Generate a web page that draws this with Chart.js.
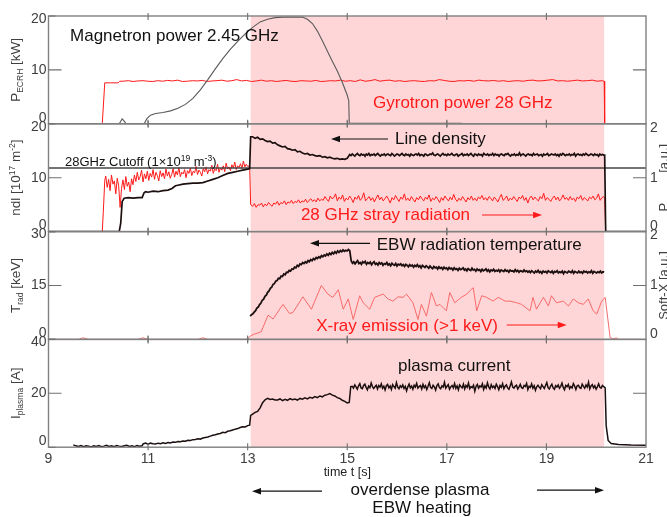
<!DOCTYPE html>
<html><head><meta charset="utf-8">
<script src="https://cdn.jsdelivr.net/npm/chart.js@4.4.1/dist/chart.umd.min.js"></script>
<style>html,body{margin:0;padding:0;background:#fff;}#wrap{width:667px;height:517px;position:relative;}canvas{display:block;}</style>
</head><body><div id="wrap"><canvas id="c" width="667" height="517"></canvas></div>
<script>
// ---------------- data ----------------
const xTicks = [9, 11, 13, 15, 17, 19, 21];
const ticksP1 = [0, 10, 20];
const ticksP2 = [0, 10, 20];
const ticksP3 = [0, 15, 30];
const ticksP4 = [0, 20, 40];
const ticksRight = [0, 1, 2];
const heatingWindow = [13.06, 20.16];
const cutoffLevel = 11.8;

// Panel 1: gyrotron power 28 GHz [kW]
const gyroLead = [[9,0],[10.08,0],[10.13,7.6],[10.25,7.6],[10.4,7.6],[10.43,7.9]];
const gyroNoiseSpan = [10.5, 20.12];
const gyroNoise = [7.9,8.0,7.85,7.95,8.0,7.9,7.85,8.0,7.9,8.05,
 7.95,8.1,7.85,7.9,8.0,7.95,8.05,7.85,7.95,8.0,
 8.1,7.9,8.0,8.2,7.95,8.05,7.85,7.95,8.1,7.9,
 8.0,7.85,7.95,8.05,7.9,7.85,8.0,7.95,7.9,8.05,
 7.85,7.9,8.0,7.95,8.1,7.9,8.0,7.85,8.15,7.9,
 8.0,8.2,7.9,8.05,8.1,7.9,8.0,7.85,7.95,8.0,
 7.9,7.85,8.0,7.95,8.2,8.05,7.9,7.85,8.0,7.95,
 8.05,7.9,8.1,8.0,7.95,8.05,7.9,8.0,7.85,7.95,
 8.0,7.9,8.05,8.1,7.95,8.0,8.1,8.2,7.95,8.0,
 7.9,8.0,8.1,7.95,8.0,8.1,7.9,8.0];
const gyroTail = [[20.16,7.9],[20.17,0],[21,0]];

// Panel 1: magnetron power 2.45 GHz [kW]
const magnetron = [[9,0],[10.42,0],[10.48,0.9],[10.52,0.5],[10.56,0],[10.92,0],[10.98,1.0],[11.05,1.6],[11.15,1.9],
 [11.3,2.1],[11.45,2.4],[11.6,2.9],[11.75,3.6],[11.9,4.7],[12.05,6.3],[12.2,8.2],[12.35,10.2],[12.5,12.1],
 [12.65,13.8],[12.8,15.3],[12.95,16.7],[13.1,17.9],[13.25,18.9],[13.4,19.4],[13.55,19.7],[13.7,19.8],
 [13.9,19.8],[14.1,19.8],[14.2,19.4],[14.3,18.6],[14.4,17.2],[14.5,15.4],[14.6,13.5],[14.7,11.6],
 [14.8,9.8],[14.9,7.7],[15.0,5.3],[15.03,4.3],[15.04,0.1],[17.3,0.1]];

// Panel 2: line density [1e17 m^-2]
const densLead = [[9,0],[10.42,0],[10.45,1.5],[10.48,5.6],[10.52,6.2],[10.6,6.3],[10.7,6.2],[10.8,6.3],[10.88,6.3],
 [10.92,7.2],[10.95,7.4],[11.0,7.3],[11.1,7.5],[11.2,7.4],[11.3,7.6],[11.4,7.7],[11.48,8.0],[11.55,8.5],
 [11.6,8.6],[11.7,8.8],[11.8,8.9],[11.9,9.0],[12.0,9.0],[12.1,9.1],[12.2,9.4],[12.3,9.7],[12.4,10.0],
 [12.5,10.4],[12.6,10.8],[12.7,11.0],[12.8,11.2],[12.9,11.4],[13.0,11.6],[13.04,11.7],[13.06,17.6]];
const densDecaySpan = [13.1, 15.0];
const densDecay = [17.6,17.3,17.5,17.1,17.2,16.9,16.7,16.8,16.4,16.5,
 16.1,15.9,15.7,15.8,15.4,15.3,15.1,15.2,14.8,14.9,
 14.6,14.4,14.5,14.2,14.3,14.1,14.0,14.1,13.8,13.9,
 13.7,13.8,13.6,13.5,13.6,13.4,13.5,13.4,13.6];
const densFlatSpan = [15.05, 20.15];
const densFlat = [14.3,14.1,14.4,14.2,14.0,14.3,14.5,14.2,14.1,14.4,
 14.2,14.3,14.0,14.4,14.2,14.5,14.1,14.3,14.2,14.4,
 14.1,14.3,14.5,14.2,14.0,14.3,14.2,14.4,14.1,14.3,
 14.4,14.2,14.1,14.5,14.3,14.0,14.2,14.4,14.3,14.1,
 14.3,14.5,14.2,14.1,14.4,14.2,14.3,14.0,14.4,14.2,
 14.1,14.3,14.4,14.2,14.5,14.1,14.3,14.2,14.0,14.4,
 14.3,14.1,14.2,14.4,14.3,14.6,14.2,14.1,14.3,14.4,
 14.2,14.0,14.3,14.5,14.2,14.3,14.1,14.4,14.2,14.3,
 14.5,14.2,14.1,14.3,14.4,14.0,14.2,14.3,14.5,14.1,
 14.3,14.2,14.4,14.1,14.3,14.5,14.2,14.0,14.4,14.3,
 14.1,14.4,14.2,14.3,14.0,14.5,14.3,14.2,14.4,14.1,
 14.3,14.2,14.5,14.1,14.4,14.2,14.3,14.0,14.3,14.4,
 14.2,14.1,14.4,14.3,14.5,14.2,14.0,14.3,14.2,14.4,
 14.1,14.3,14.2,14.6,14.1,14.3,14.4,14.2,14.0,14.3,
 14.4,14.2,14.3,14.1,14.5,14.2,14.3,14.4,14.1,14.2,
 14.3,14.0,14.4,14.2,14.3,14.5,14.1,14.2,14.4,14.3,
 14.2,14.4,14.1,14.3,14.0,14.4,14.2,14.5,14.3,14.1,
 14.3,14.2,14.4,14.1,14.3,14.2,14.5,14.0,14.3,14.4,
 14.2,14.3,14.1,14.4,14.2,14.5,14.3,14.1,14.2,14.4,
 14.3,14.1,14.4,14.2,14.3,14.0,14.4,14.2,14.3,14.2];
const densTail = [[20.17,14.2],[20.19,0],[21,0]];

// Panel 2: 28 GHz stray radiation [a.u.]
const strayLead = [[9,0],[10.08,0],[10.1,0.35],[10.13,0.95]];
const strayEarlySpan = [10.15, 13.0];
const strayEarly = [1.03,0.82,0.97,0.76,1.05,0.88,0.94,0.70,0.99,0.85,0.45,0.80,0.96,0.78,1.02,0.84,0.92,0.74,0.98,0.87,
 1.05,0.93,1.10,0.96,1.02,1.14,0.92,1.07,0.98,1.12,
 0.95,1.08,1.01,1.15,0.97,1.10,1.04,0.94,1.13,1.02,
 1.09,0.98,1.16,1.03,1.11,0.99,1.06,1.17,1.01,1.12,
 1.05,1.19,1.02,1.10,1.07,1.15,1.00,1.13,1.08,1.18,
 1.04,1.12,1.09,1.21,1.06,1.14,1.10,1.03,1.17,1.11,
 1.20,1.07,1.15,1.12,1.23,1.08,1.16,1.13,1.25,1.10,
 1.18,1.14,1.22,1.11,1.27,1.16,1.20,1.13,1.24,1.18,
 1.29,1.15,1.22,1.19,1.26,1.17,1.31,1.20,1.25,1.21];
const strayDrop = [[13.04,1.22],[13.06,0.5]];
const strayLateSpan = [13.1, 20.15];
const strayLate = [0.47,0.52,0.45,0.50,0.49,0.53,0.46,0.51,0.48,0.54,
 0.50,0.47,0.53,0.51,0.56,0.49,0.54,0.52,0.57,0.50,
 0.55,0.53,0.58,0.52,0.56,0.54,0.59,0.53,0.57,0.55,
 0.60,0.54,0.58,0.61,0.56,0.59,0.55,0.62,0.57,0.60,
 0.58,0.65,0.60,0.56,0.66,0.61,0.63,0.70,0.57,0.64,
 0.60,0.68,0.56,0.62,0.59,0.66,0.61,0.54,0.64,0.60,
 0.67,0.58,0.62,0.72,0.57,0.61,0.65,0.58,0.63,0.55,
 0.62,0.68,0.59,0.64,0.57,0.61,0.66,0.60,0.53,0.63,
 0.59,0.67,0.61,0.56,0.64,0.60,0.70,0.58,0.62,0.57,
 0.65,0.60,0.55,0.63,0.59,0.66,0.61,0.57,0.64,0.60,
 0.68,0.56,0.62,0.59,0.65,0.60,0.54,0.63,0.58,0.66,
 0.61,0.57,0.64,0.59,0.69,0.60,0.56,0.62,0.58,0.65,
 0.60,0.55,0.63,0.59,0.66,0.58,0.62,0.57,0.64,0.61,
 0.67,0.59,0.63,0.58,0.65,0.62,0.57,0.64,0.60,0.55,
 0.63,0.69,0.58,0.61,0.66,0.57,0.62,0.59,0.65,0.60,
 0.56,0.64,0.61,0.67,0.58,0.63,0.53,0.62,0.66,0.59,
 0.64,0.60,0.57,0.65,0.61,0.71,0.58,0.63,0.60,0.56,
 0.62,0.66,0.59,0.64,0.57,0.61,0.68,0.60,0.63,0.58,
 0.65,0.59,0.62,0.56,0.64,0.61,0.67,0.58,0.63,0.60,
 0.57,0.64,0.61,0.66,0.59,0.62,0.70,0.58,0.63,0.65];
const strayTail = [[20.17,0.62],[20.19,0],[21,0]];

// Panel 3: EBW radiation temperature [keV]
const ebwRiseSpan = [13.05, 15.05];
const ebwRise = [6.5,6.9,7.1,7.6,8.0,8.7,9.0,9.7,10.1,10.9,
 11.2,12.0,12.3,13.1,13.5,14.2,14.5,15.3,15.5,16.2,
 16.4,17.0,16.9,17.6,17.5,18.2,18.0,18.7,18.6,19.2,
 19.0,19.6,19.5,20.1,19.9,20.6,20.3,21.0,20.8,21.4,
 21.1,21.6,21.3,21.9,21.6,22.2,21.9,22.5,22.2,22.8,
 22.5,23.0,22.7,23.3,23.0,23.5,23.2,23.8,23.4,24.0,
 23.6,24.2,23.8,24.4,24.0,24.6,24.2,24.7,24.4,24.9,
 24.5,24.8,24.6,25.0,24.7];
const ebwDecaySpan = [15.08, 20.16];
const ebwDecay = [21.8,21.2,21.6,21.0,21.5,21.9,21.1,21.4,20.9,21.6,
 21.3,21.7,20.9,21.4,21.1,21.5,20.8,21.3,21.6,20.9,
 21.2,20.7,21.4,21.0,21.3,20.6,21.1,20.9,21.4,20.7,
 21.0,20.5,21.2,20.8,20.6,21.1,20.4,20.9,20.7,21.0,
 20.5,20.8,20.3,20.9,20.6,20.2,20.8,20.4,20.7,20.1,
 20.6,20.3,20.8,20.2,20.5,19.9,20.6,20.3,20.0,20.5,
 20.2,19.8,20.4,20.0,19.7,20.3,19.9,20.1,19.6,20.2,
 19.8,20.0,19.5,20.1,19.7,19.9,19.4,20.0,19.6,19.8,
 19.3,19.9,19.5,19.7,19.2,19.8,19.4,19.6,19.9,19.3,
 19.6,19.1,19.7,19.4,19.2,19.8,19.3,19.5,19.0,19.6,
 19.2,19.4,18.9,19.5,19.1,19.3,19.6,19.0,19.4,18.8,
 19.3,19.1,19.5,18.9,19.2,19.0,19.4,18.8,19.3,19.1,
 18.9,19.4,19.0,19.2,18.7,19.3,19.0,19.1,18.8,19.4,
 18.9,19.2,18.7,19.1,19.0,18.8,19.3,18.9,19.1,18.7,
 19.0,18.6,19.1,18.8,18.5,19.0,18.7,19.2,18.6,18.9,
 18.4,19.0,18.7,18.9,18.5,19.1,18.8,18.6,19.0,18.4,
 18.9,18.7,19.1,18.5,18.8,18.6,19.0,18.3,18.9,18.7,
 18.5,19.0,18.8,18.6,19.1,18.4,18.9,18.7,18.5,19.0,
 18.6,18.8,18.4,19.0,18.7,18.9,18.5,18.8,18.6,19.1,
 18.4,18.9,18.7,18.5,18.8,18.6,19.0,18.5,18.8,18.7];

// Panel 3: X-ray emission (>1 keV) [a.u.]
const xray = [[9,0],[9.6,0],[9.7,0.03],[9.8,0],[10.8,0],[10.9,0.03],[11.0,0],[12.0,0],[12.1,0.03],[12.2,0],[13.0,0],
 [13.05,0.06],[13.11,0.09],[13.27,0.14],[13.41,0.45],[13.51,0.38],[13.71,0.65],[13.84,0.48],[13.91,0.5],
 [14.11,0.79],[14.28,0.56],[14.48,1.0],[14.61,0.84],[14.71,0.78],[14.82,0.92],[14.92,0.56],[15.02,0.75],
 [15.12,0.37],[15.25,0.81],[15.32,0.68],[15.45,0.56],[15.55,0.78],[15.72,0.84],[15.82,0.75],[15.92,0.71],
 [16.02,0.79],[16.12,0.78],[16.19,0.84],[16.32,0.68],[16.42,0.37],[16.49,0.65],[16.59,0.43],[16.69,0.87],
 [16.79,0.62],[16.86,0.65],[16.99,0.53],[17.06,0.87],[17.16,0.68],[17.29,0.78],[17.40,0.84],[17.46,0.9],
 [17.53,0.96],[17.60,0.53],[17.70,0.81],[17.80,0.78],[17.93,0.71],[18.03,0.78],[18.17,0.71],[18.27,0.71],
 [18.40,0.68],[18.50,0.65],[18.67,0.53],[18.73,0.78],[18.80,0.56],[18.94,0.78],[19.04,0.62],[19.10,0.81],
 [19.20,0.68],[19.34,0.71],[19.44,0.62],[19.54,0.75],[19.64,0.68],[19.74,0.65],[19.84,0.75],[19.94,0.53],
 [20.01,0.47],[20.11,0.71],[20.18,0.78],[20.28,0.03],[20.35,0.01],[20.40,0.03],[20.45,0],[21,0]];

// Panel 4: plasma current [A]
const ipEarlySpan = [9.5, 10.88];
const ipEarly = [0.8,0.5,0.3,0.6,0.2,0.5,0.4,0.1,0.5,0.3,0.6,0.2,0.4,0.7,0.3,0.5,0.2,0.6,0.4,0.3,0.5,0.7,0.3,0.5,0.2,0.6,0.4,0.5];
const ipRampSpan = [10.9, 13.0];
const ipRamp = [1.2,1.5,1.1,1.5,1.3,1.2,1.5,1.3,1.6,1.4,1.7,1.6,1.9,1.8,2.1,2.0,2.3,2.2,2.6,2.5,2.8,2.9,3.1,3.0,
 3.4,3.6,3.8,4.1,4.4,4.6,4.9,5.1,5.5,5.4,5.9,6.1,6.4,6.7,6.9,7.3,7.6,7.5,8.0];
const ipJump1 = [[13.04,8.2],[13.06,11.8]];
const ipMidSpan = [13.1, 15.0];
const ipMid = [12.3,12.9,13.3,14.6,16.5,17.6,18.1,17.7,17.9,17.5,
 17.5,17.9,17.3,17.8,17.4,18.0,17.6,17.9,17.5,18.1,
 17.8,18.3,17.9,18.5,18.2,18.8,18.4,19.0,18.7,19.3,
 19.5,19.9,19.3,19.0,18.4,18.1,17.4,17.0,16.4];
const ipJump2 = [[15.04,16.6],[15.07,22.5]];
const ipFlatSpan = [15.1, 20.15];
const ipFlat = [22.6,21.9,23.1,22.4,21.5,22.8,23.6,22.0,21.7,22.9,
 23.4,22.2,21.3,22.7,22.1,23.8,22.5,21.8,22.4,23.0,
 21.6,22.9,22.3,23.5,21.9,22.6,21.2,22.8,23.3,22.0,
 22.7,21.4,23.2,22.5,21.9,24.0,22.3,21.7,22.8,22.2,
 23.1,21.8,22.6,20.9,22.4,23.4,22.0,22.7,21.5,23.0,
 22.3,23.7,21.9,22.5,22.9,21.6,23.3,22.1,22.8,21.4,
 22.6,23.9,22.2,21.8,23.0,22.4,21.2,22.9,23.5,22.1,
 21.7,22.8,22.3,24.1,21.9,22.6,23.2,21.5,22.4,22.9,
 22.0,23.6,21.8,22.7,21.3,23.1,22.5,22.0,23.4,21.6,
 22.9,22.2,23.8,21.7,22.5,22.1,23.0,20.8,22.6,23.3,
 21.9,22.7,22.3,23.5,21.4,22.8,22.0,23.9,22.4,21.6,
 23.2,22.1,22.7,21.8,23.4,22.5,21.3,22.9,22.2,23.6,
 21.7,22.6,23.1,22.0,21.5,22.8,24.2,22.3,21.9,22.7,
 23.0,21.6,22.4,23.3,22.1,21.8,22.9,22.5,23.7,21.4,
 22.6,22.2,23.5,21.9,22.8,21.1,22.4,23.0,22.3,21.7,
 23.2,22.5,21.8,22.9,24.0,22.1,21.6,22.7,23.4,22.0,
 21.5,22.8,22.3,23.1,21.9,22.6,23.8,22.2,21.3,22.9,
 22.4,23.3,21.7,22.5,22.0,23.6,22.7,21.4,22.8,23.0,
 22.1,21.8,23.4,22.6,21.9,23.1,22.3,24.1,21.6,22.7,
 23.2,22.0,22.8,21.5,22.4,23.5,22.2,21.9,22.9,22.5];
const ipTail = [[20.18,22.0],[20.2,8],[20.24,2.5],[20.3,1.4],[20.45,1.0],[20.7,0.8],[21,0.7]];

// ---------------- build ----------------
function build(parts) {
  const out = [];
  for (const p of parts) {
    if (Array.isArray(p)) { for (const [x, y] of p) out.push({x, y}); }
    else {
      const n = p.v.length;
      p.v.forEach((y, i) => out.push({x: p.span[0] + (p.span[1] - p.span[0]) * i / (n - 1), y}));
    }
  }
  return out;
}
const seg = (span, v) => ({span, v});

const BLACK = '#1c0f0f', RED = '#ff1a1a', GRAY = '#5a5a5a', TXT = '#404040';
const FONT = '"Liberation Sans", Arial, sans-serif';
Chart.defaults.font.family = FONT;

const line = (data, yAxisID, color, width) => ({data, yAxisID, xAxisID: 'x', borderColor: color, borderWidth: width,
  pointRadius: 0, tension: 0, fill: false});

const datasets = [
  line(build([densLead, seg(densDecaySpan, densDecay), seg(densFlatSpan, densFlat), densTail]), 'y2', BLACK, 1.7),
  line(build([seg(ebwRiseSpan, ebwRise), seg(ebwDecaySpan, ebwDecay)]), 'y3', BLACK, 1.8),
  line(build([seg(ipEarlySpan, ipEarly), seg(ipRampSpan, ipRamp), ipJump1, seg(ipMidSpan, ipMid), ipJump2, seg(ipFlatSpan, ipFlat), ipTail]), 'y4', BLACK, 1.5),
  line(build([[[9, cutoffLevel], [21, cutoffLevel]]]), 'y2', '#444', 1.3),
  line(build([magnetron]), 'y1', GRAY, 1.1),
  line(build([gyroLead, seg(gyroNoiseSpan, gyroNoise), gyroTail]), 'y1', RED, 1),
  line(build([strayLead, seg(strayEarlySpan, strayEarly), strayDrop, seg(strayLateSpan, strayLate), strayTail]), 'r2', RED, 1),
  line(build([xray]), 'r3', '#f86a6a', 1),
];

const hidden = {ticks: {display: false}, grid: {display: false}, border: {display: false}};
const yL = (min, max) => Object.assign({type: 'linear', position: 'left', stack: 'L', stackWeight: 1, min, max,
  afterFit: s => { s.width = 0; }}, hidden);
const yR = (min, max) => Object.assign({type: 'linear', position: 'right', stack: 'R', stackWeight: 1, min, max,
  afterFit: s => { s.width = 0; }}, hidden);

// ---------------- decoration plugin ----------------
function rich(ctx, parts, x, y, align) {
  let w = 0;
  for (const p of parts) { ctx.font = p.s + 'px ' + FONT; w += ctx.measureText(p.t).width; }
  let cx = align === 'center' ? x - w / 2 : align === 'right' ? x - w : x;
  ctx.textAlign = 'left'; ctx.textBaseline = 'alphabetic';
  for (const p of parts) {
    ctx.font = p.s + 'px ' + FONT;
    ctx.fillText(p.t, cx, y + (p.dy || 0));
    cx += ctx.measureText(p.t).width;
  }
}
function arrow(ctx, x1, y, x2, color) {
  const d = Math.sign(x2 - x1);
  ctx.strokeStyle = color; ctx.fillStyle = color; ctx.lineWidth = 1.2;
  ctx.beginPath(); ctx.moveTo(x1, y); ctx.lineTo(x2 - d * 7, y); ctx.stroke();
  ctx.beginPath(); ctx.moveTo(x2, y); ctx.lineTo(x2 - d * 9, y - 3.2); ctx.lineTo(x2 - d * 9, y + 3.2); ctx.closePath(); ctx.fill();
}

const leftPanels = [
  {id: 'y1', r: 'r1', ticks: ticksP1, title: [{t: 'P', s: 13.5}, {t: 'ECRH', s: 8.5, dy: 3}, {t: ' [kW]', s: 13.5}]},
  {id: 'y2', r: 'r2', ticks: ticksP2, rticks: ticksRight,
   title: [{t: 'ndl [10', s: 13.5}, {t: '17', s: 8.5, dy: -5}, {t: ' m', s: 13.5}, {t: '-2', s: 8.5, dy: -5}, {t: ']', s: 13.5}],
   rtitle: [{t: 'P', s: 13}, {t: '28GHz', s: 8.5, dy: 7}, {t: ' [a.u.]', s: 13}]},
  {id: 'y3', r: 'r3', ticks: ticksP3, rticks: ticksRight, title: [{t: 'T', s: 13.5}, {t: 'rad', s: 8.5, dy: 3}, {t: ' [keV]', s: 13.5}],
   rtitle: [{t: 'Soft-X [a.u.]', s: 13}]},
  {id: 'y4', r: 'r4', ticks: ticksP4, title: [{t: 'I', s: 13.5}, {t: 'plasma', s: 8.5, dy: 3}, {t: ' [A]', s: 13.5}]},
];

const notes = [
  {parts: [{t: 'Magnetron power 2.45 GHz', s: 17}], x: 9.432, y: 15.42, axis: 'y1', color: '#111', align: 'left'},
  {parts: [{t: 'Gyrotron power 28 GHz', s: 17}], x: 15.517, y: 2.88, axis: 'y1', color: RED, align: 'left'},
  {parts: [{t: 'Line density', s: 17}], x: 15.959, y: 16.25, axis: 'y2', color: '#111', align: 'left'},
  {parts: [{t: '28GHz Cutoff (1\u00d710', s: 13}, {t: '19', s: 8.5, dy: -5}, {t: ' m', s: 13}, {t: '-3', s: 8.5, dy: -5}, {t: ')', s: 13}],
   x: 9.331, y: 12.23, axis: 'y2', color: '#111', align: 'left'},
  {parts: [{t: '28 GHz stray radiation', s: 17}], x: 17.466, y: 0.215, axis: 'r2', color: RED, align: 'right'},
  {parts: [{t: 'EBW radiation temperature', s: 17}], x: 15.592, y: 24.88, axis: 'y3', color: '#111', align: 'left'},
  {parts: [{t: 'X-ray emission (>1 keV)', s: 17}], x: 18.028, y: 0.156, axis: 'r3', color: RED, align: 'right'},
  {parts: [{t: 'plasma current', s: 17}], x: 16.02, y: 28.27, axis: 'y4', color: '#111', align: 'left'},
];
const arrows = [
  {x1: 15.818, x2: 14.674, y: 17.18, axis: 'y2', color: '#111'},
  {x1: 17.707, x2: 18.912, y: 0.308, axis: 'r2', color: RED},
  {x1: 15.457, x2: 14.252, y: 26.74, axis: 'y3', color: '#111'},
  {x1: 18.203, x2: 19.408, y: 0.267, axis: 'r3', color: RED},
];

const deco = {
  id: 'deco',
  beforeDatasetsDraw(chart) {
    const {ctx, chartArea: a, scales} = chart;
    const x0 = scales.x.getPixelForValue(heatingWindow[0]);
    const x1 = scales.x.getPixelForValue(heatingWindow[1]);
    ctx.save();
    ctx.fillStyle = '#ffd6d7';
    ctx.fillRect(x0, a.top, x1 - x0, a.bottom - a.top);
    ctx.restore();
  },
  afterDatasetsDraw(chart) {
    const {ctx, chartArea: a, scales} = chart;
    const xs = scales.x;
    ctx.save();
    for (const p of leftPanels) {
      const ys = scales[p.id];
      const top = ys.top, bot = ys.bottom;
      ctx.strokeStyle = '#808080'; ctx.lineWidth = 1.4;
      ctx.strokeRect(a.left, top, a.right - a.left, bot - top);
      ctx.strokeStyle = '#707070'; ctx.lineWidth = 1.1;
      ctx.beginPath();
      for (const v of p.ticks) {
        const y = ys.getPixelForValue(v);
        const len = (v === ys.min || v === ys.max) ? 7 : 13;
        ctx.moveTo(a.left, y); ctx.lineTo(a.left + len, y);
      }
      const rs = scales[p.r];
      const ym = rs.getPixelForValue((rs.min + rs.max) / 2);
      ctx.moveTo(a.right, ym); ctx.lineTo(a.right - 13, ym);
      for (const t of xTicks) {
        if (t === xs.min || t === xs.max) continue;
        const x = xs.getPixelForValue(t);
        ctx.moveTo(x, top - 3); ctx.lineTo(x, top + 4);
        ctx.moveTo(x, bot - 4); ctx.lineTo(x, bot + 3);
      }
      ctx.stroke();
      ctx.fillStyle = TXT; ctx.font = '14px ' + FONT; ctx.textAlign = 'right'; ctx.textBaseline = 'middle';
      for (const v of p.ticks) {
        let y = ys.getPixelForValue(v);
        if (v === ys.max) y += 3; else if (v === ys.min) y -= 6;
        ctx.fillText(String(v), a.left - 2, y);
      }
      if (p.rticks) {
        ctx.textAlign = 'left';
        for (const v of p.rticks) {
          let y = rs.getPixelForValue(v);
          if (v === rs.max) y += 4; else if (v === rs.min) y -= 5.5;
          ctx.fillText(String(v), a.right + 4, y);
        }
      }
      const cy = (top + bot) / 2;
      ctx.save(); ctx.translate(20, cy); ctx.rotate(-Math.PI / 2); ctx.fillStyle = TXT;
      rich(ctx, p.title, 0, 0, 'center'); ctx.restore();
      if (p.rtitle) {
        ctx.save(); ctx.translate(668, cy); ctx.rotate(-Math.PI / 2); ctx.fillStyle = TXT;
        rich(ctx, p.rtitle, 0, 0, 'center'); ctx.restore();
      }
    }
    ctx.fillStyle = TXT; ctx.font = '14px ' + FONT; ctx.textAlign = 'center'; ctx.textBaseline = 'middle';
    for (const t of xTicks) ctx.fillText(String(t), xs.getPixelForValue(t), a.bottom + 12);
    ctx.fillStyle = '#222';
    rich(ctx, [{t: 'time t [s]', s: 12.5}], xs.getPixelForValue(15), a.bottom + 29, 'center');
    ctx.fillStyle = '#111';
    rich(ctx, [{t: 'overdense plasma', s: 17}], xs.getPixelForValue(16.46), a.bottom + 48, 'center');
    rich(ctx, [{t: 'EBW heating', s: 17}], xs.getPixelForValue(16.5), a.bottom + 66, 'center');
    arrow(ctx, xs.getPixelForValue(14.493), a.bottom + 44, xs.getPixelForValue(13.087), '#111');
    arrow(ctx, xs.getPixelForValue(18.811), a.bottom + 43, xs.getPixelForValue(20.157), '#111');
    for (const n of notes) {
      ctx.fillStyle = n.color;
      rich(ctx, n.parts, xs.getPixelForValue(n.x), scales[n.axis].getPixelForValue(n.y), n.align);
    }
    for (const r of arrows) {
      const y = scales[r.axis].getPixelForValue(r.y);
      arrow(ctx, xs.getPixelForValue(r.x1), y, xs.getPixelForValue(r.x2), r.color);
    }
    ctx.restore();
  }
};

new Chart(document.getElementById('c'), {
  type: 'line',
  data: {datasets},
  options: {
    responsive: false, animation: false, events: [],
    layout: {padding: {left: 48.5, right: 21, top: 16, bottom: 69.8}},
    plugins: {legend: {display: false}, tooltip: {enabled: false}},
    scales: {
      x: Object.assign({type: 'linear', position: 'bottom', min: 9, max: 21, afterFit: s => { s.height = 0; }}, hidden),
      y4: yL(0, 40), y3: yL(0, 30), y2: yL(0, 20), y1: yL(0, 20),
      r1: yR(0, 20), r2: yR(0, 2), r3: yR(0, 2), r4: yR(0, 40),
    }
  },
  plugins: [deco]
});
</script></body></html>
